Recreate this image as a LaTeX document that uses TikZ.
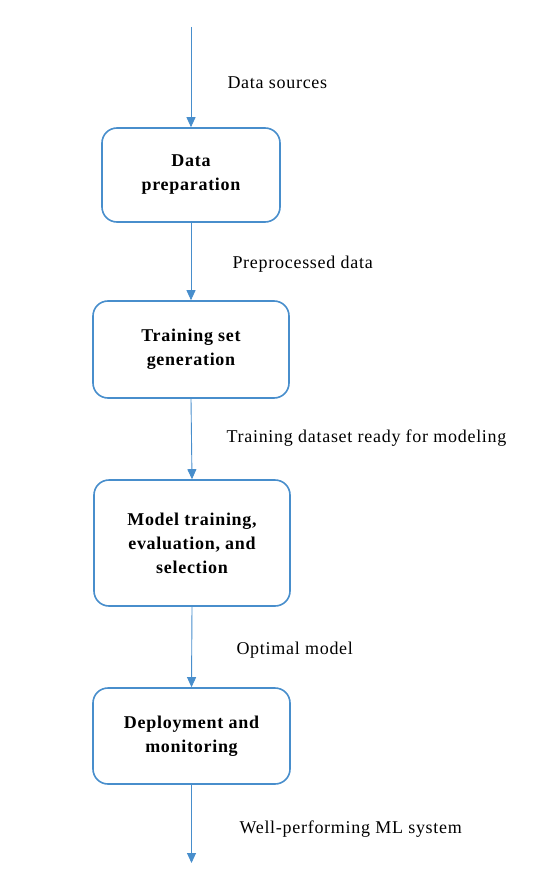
\documentclass[tikz,border=0pt]{standalone}
\usepackage{fontspec}
\setmainfont{Liberation Serif}
\usetikzlibrary{arrows.meta, positioning}
\definecolor{flowblue}{RGB}{72, 142, 204}

\begin{document}
\begin{tikzpicture}[x=1pt, y=-1pt, >={Triangle[width=9pt,length=10pt]},
    stagebox/.style={draw=flowblue, line width=1.6pt, rounded corners=15pt, align=center,
      font=\fontsize{18}{24}\selectfont\bfseries\addfontfeature{LetterSpace=4}, fill=white},
    flowline/.style={->, draw=flowblue, line width=0.9pt, color=flowblue},
    flowlabel/.style={anchor=west, font=\fontsize{18}{21}\selectfont\addfontfeature{LetterSpace=4}}]
  \useasboundingbox (0,0) rectangle (543,885);
  % stages
  \node[stagebox, minimum width=178pt, minimum height=94pt]  (prep)   at (191,175)   {Data\\preparation};
  \node[stagebox, minimum width=196pt, minimum height=97pt]  (trset)  at (191,349.5) {Training set\\generation};
  \node[stagebox, minimum width=196pt, minimum height=126pt] (model)  at (192,543)   {Model training,\\evaluation, and\\selection};
  \node[stagebox, minimum width=197pt, minimum height=96pt]  (deploy) at (191.5,736) {Deployment and\\monitoring};
  % free ends
  \coordinate (src) at (191,27);
  \coordinate (out) at (191.5,863);
  % connectors
  \draw[flowline] (src) -- (prep.north);
  \draw[flowline] (prep.south) -- (trset.north);
  \draw[flowline] (trset.south) -- (model.north);
  \draw[flowline] (model.south) -- (deploy.north);
  \draw[flowline] (deploy.south) -- (out);
  % labels
  \node[flowlabel] (lsrc)    at (224,83)  {Data sources};
  \node[flowlabel] (lprep)   at (229,264) {Preprocessed data};
  \node[flowlabel] (ltrset)  at (223,438) {Training dataset ready for modeling};
  \node[flowlabel] (lmodel)  at (233,650) {Optimal model};
  \node[flowlabel] (ldeploy) at (236,829) {Well-performing ML system};
\end{tikzpicture}
\end{document}
